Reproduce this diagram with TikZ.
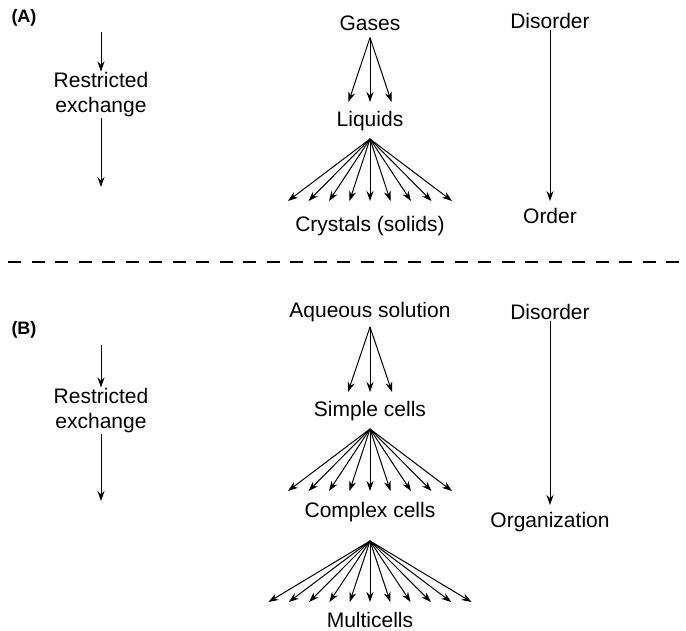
\documentclass[tikz,border=0pt]{standalone}
\usepackage{fontspec}
\setmainfont{Liberation Sans}
\usetikzlibrary{arrows.meta,positioning}

\begin{document}
\begin{tikzpicture}[x=1pt, y=-1pt, >={Stealth[length=10pt,width=7pt]}]
\tikzset{
  lbl/.style={font=\fontsize{21}{25}\selectfont, inner sep=1pt, align=center},
  panel/.style={font=\fontsize{18}{20}\selectfont\bfseries, inner sep=0pt},
  fan/.style={->, line width=1pt},
  cut/.style={line width=2.6pt, dash pattern=on 13pt off 10.5pt}
}
\useasboundingbox (0,0) rectangle (686,631);

% (A) physical states
\node[panel] (pa) at (24,18) {(A)};
\node[lbl] (gases) at (370,23) {Gases};
\node[lbl] (liquids) at (370,121) {Liquids};
\node[lbl] (crystals) at (370,226) {Crystals (solids)};
\node[lbl] (rxa) at (101,95) {Restricted\\exchange};
\node[lbl] (disa) at (550,21) {Disorder};
\node[lbl] (orda) at (550,216) {Order};

\coordinate (ta) at (101,32);
\coordinate (ba) at (101,187);
\draw[fan] (ta) -- (rxa);
\draw[fan] (rxa) -- (ba);
\draw[fan] (disa) -- ([yshift=6pt]orda.north);

\foreach \i in {-1,0,1}
  \coordinate (g\i) at (370+\i*21.5,102);
\foreach \i in {-1,0,1}
  \draw[fan] ([yshift=-6pt]gases.south) -- (g\i);
\foreach \i in {-4,...,4}
  \coordinate (l\i) at (370+\i*20.5,201);
\foreach \i in {-4,...,4}
  \draw[fan] ([yshift=-7pt]liquids.south) -- (l\i);

% divider
\coordinate (cutl) at (8,262);
\coordinate (cutr) at (686,262);
\draw[cut] (cutl) -- (cutr);

% (B) living matter
\node[panel] (pb) at (24,330) {(B)};
\node[lbl] (aqua) at (370,312) {Aqueous solution};
\node[lbl] (simple) at (370,411) {Simple cells};
\node[lbl] (complex) at (370,512) {Complex cells};
\node[lbl] (multi) at (370,620) {Multicells};
\node[lbl] (rxb) at (101,411) {Restricted\\exchange};
\node[lbl] (disb) at (550,312) {Disorder};
\node[lbl] (orgb) at (550,522) {Organization};

\coordinate (tb) at (101,345);
\coordinate (bb) at (101,501);
\draw[fan] (tb) -- (rxb);
\draw[fan] (rxb) -- (bb);
\draw[fan] (disb) -- ([yshift=6pt]orgb.north);

\foreach \i in {-1,0,1}
  \coordinate (a\i) at (370+\i*22,392);
\foreach \i in {-1,0,1}
  \draw[fan] ([yshift=-4pt]aqua.south) -- (a\i);
\foreach \i in {-4,...,4}
  \coordinate (s\i) at (370+\i*20.5,491);
\foreach \i in {-4,...,4}
  \draw[fan] ([yshift=-7pt]simple.south) -- (s\i);
\foreach \i in {-5,...,5}
  \coordinate (c\i) at (370+\i*20.3,602);
\foreach \i in {-5,...,5}
  \draw[fan] ([yshift=-18pt]complex.south) -- (c\i);
\end{tikzpicture}
\end{document}
